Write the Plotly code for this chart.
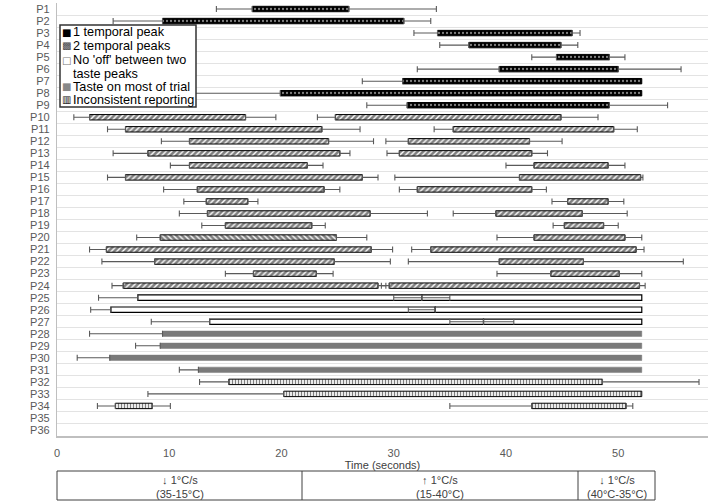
import plotly.graph_objects as go

FONT = "Liberation Sans, Arial, sans-serif"
GREY_TEXT = "#595959"

participants = [f"P{i}" for i in range(1, 37)]

# one entry per reported taste segment (row number = participant)
seg_row = [1, 2, 3, 4, 5, 6, 7, 8, 9,
           10, 10, 11, 11, 12, 12, 13, 13, 14, 14, 15, 15, 16, 16, 17, 17,
           18, 18, 19, 19, 20, 20, 21, 21, 22, 22, 23, 23, 24, 24,
           25, 25, 26, 26, 27, 27,
           28, 29, 30, 31,
           32, 33, 34, 34]
seg_kind = (["one"] * 9 + ["two"] * 30 + ["nooff"] * 6 + ["most"] * 4
            + ["incons"] * 4)
seg_start = [17.4, 9.4, 33.9, 36.7, 44.5, 39.4, 30.8, 19.9, 31.2,
             2.9, 24.8, 6.1, 35.3, 11.8, 31.3, 8.1, 30.5, 11.8, 42.5,
             6.1, 41.2, 12.5, 32.1, 13.3, 45.5, 13.4, 39.1, 15.0, 45.2,
             9.2, 42.5, 4.4, 33.3, 8.7, 39.4, 17.5, 44.0, 5.9, 29.6,
             7.2, 32.5, 4.8, 33.7, 13.6, 38.0,
             9.4, 9.2, 4.7, 12.6,
             15.3, 20.2, 5.2, 42.3]
seg_end = [26.0, 30.9, 45.9, 44.9, 49.2, 50.0, 52.1, 52.1, 49.2,
           16.8, 44.9, 23.6, 49.6, 24.2, 42.1, 25.2, 42.3, 22.3, 49.1,
           27.2, 52.0, 23.8, 42.3, 17.0, 49.1, 27.9, 46.8, 22.7, 48.7,
           24.9, 50.6, 28.0, 51.6, 24.7, 46.9, 23.1, 50.1, 28.6, 51.9,
           32.5, 52.1, 33.7, 52.1, 38.0, 52.1,
           52.1, 52.1, 52.1, 52.1,
           48.6, 52.1, 8.5, 50.7]
# whisker ends: earliest onset / latest offset reported
seg_low = [14.2, 5.0, 31.8, 34.1, 42.3, 32.1, 27.2, 8.0, 27.6,
           1.5, 23.2, 4.5, 33.6, 9.3, 29.3, 5.0, 29.4, 10.1, 40.0,
           4.5, 30.1, 9.5, 30.5, 11.3, 44.1, 10.9, 35.3, 12.9, 44.2,
           7.1, 39.2, 2.9, 31.6, 4.0, 31.3, 15.0, 39.2, 4.9, 28.9,
           3.7, 30.0, 3.0, 31.3, 8.4, 35.0,
           2.9, 7.0, 1.8, 10.9,
           12.7, 8.1, 3.6, 35.0]
seg_high = [33.8, 33.3, 46.6, 46.4, 50.6, 55.6, 52.1, 52.1, 54.4,
            19.5, 48.2, 27.0, 51.7, 28.2, 45.0, 26.1, 43.7, 23.7, 50.6,
            28.6, 52.2, 25.2, 43.6, 17.9, 50.5, 33.0, 50.8, 23.9, 50.0,
            27.6, 52.1, 29.9, 52.3, 29.7, 55.8, 24.6, 52.1, 29.3, 52.4,
            35.0, 52.1, 33.7, 52.1, 40.7, 52.1,
            52.1, 52.1, 52.1, 52.1,
            57.2, 52.1, 10.1, 51.3]

legend_labels = ["1 temporal peak", "2 temporal peaks", "No 'off' between two",
                 "taste peaks", "Taste on most of trial", "Inconsistent reporting"]
phase_labels = ["↓ 1°C/s<br>(35-15°C)", "↑ 1°C/s<br>(15-40°C)",
                "↓ 1°C/s<br>(40°C-35°C)"]

styles = {
    "one": dict(color="black", line=dict(color="black", width=1),
                pattern=dict(shape=".", fillmode="overlay", fgcolor="white",
                             size=4, solidity=0.25)),
    "two": dict(color="white", line=dict(color="black", width=1),
                pattern=dict(shape="/", fillmode="overlay", fgcolor="black",
                             size=4, solidity=0.65)),
    "nooff": dict(color="white", line=dict(color="black", width=1.2)),
    "most": dict(color="#7a7a7a", line=dict(color="#7a7a7a", width=0.5)),
    "incons": dict(color="white", line=dict(color="black", width=1),
                   pattern=dict(shape="|", fillmode="overlay", fgcolor="black",
                                size=3, solidity=0.45)),
}

fig = go.Figure()

for kind, style in styles.items():
    idx = [i for i, k in enumerate(seg_kind) if k == kind]
    marker = dict(style)
    if kind == "two":
        # P20's first bar is hatched the other way
        shapes = ["\\" if (seg_row[i] == 20 and seg_start[i] < 20) else "/" for i in idx]
        marker["pattern"] = dict(style["pattern"], shape=shapes)
    fig.add_trace(
        go.Bar(
            y=[seg_row[i] for i in idx],
            x=[seg_end[i] - seg_start[i] for i in idx],
            base=[seg_start[i] for i in idx],
            orientation="h",
            width=0.45,
            marker=marker,
            showlegend=False,
            hoverinfo="skip",
        )
    )

err_style = dict(type="data", symmetric=False, color="#5a5a5a", thickness=1.1, width=3)

lo = [i for i in range(len(seg_row)) if seg_start[i] - seg_low[i] > 0.05]
fig.add_trace(
    go.Scatter(
        x=[seg_start[i] for i in lo],
        y=[seg_row[i] for i in lo],
        mode="markers",
        marker=dict(color="rgba(0,0,0,0)", size=1),
        error_x=dict(err_style, array=[0] * len(lo),
                     arrayminus=[seg_start[i] - seg_low[i] for i in lo]),
        showlegend=False,
        hoverinfo="skip",
    )
)
hi = [i for i in range(len(seg_row)) if seg_high[i] - seg_end[i] > 0.05]
fig.add_trace(
    go.Scatter(
        x=[seg_end[i] for i in hi],
        y=[seg_row[i] for i in hi],
        mode="markers",
        marker=dict(color="rgba(0,0,0,0)", size=1),
        error_x=dict(err_style, array=[seg_high[i] - seg_end[i] for i in hi],
                     arrayminus=[0] * len(hi)),
        showlegend=False,
        hoverinfo="skip",
    )
)

fig.update_yaxes(
    range=[36.5, 0.5],
    tickmode="array",
    tickvals=list(range(1, 37)),
    ticktext=participants,
    showgrid=False,
    showline=True,
    linecolor="#bfbfbf",
    linewidth=1.2,
    ticks="",
    ticklabelstandoff=4,
    tickfont=dict(size=11, color=GREY_TEXT),
    minor=dict(tickmode="array", tickvals=[i + 0.5 for i in range(0, 36)],
               showgrid=True, gridcolor="#e3e3e3", gridwidth=1),
    zeroline=False,
)
fig.update_xaxes(
    range=[0, 58],
    tickvals=[0, 10, 20, 30, 40, 50],
    showgrid=False,
    showline=True,
    linecolor="#bfbfbf",
    linewidth=1.5,
    ticks="outside",
    ticklen=6,
    tickcolor="rgba(0,0,0,0)",
    tickfont=dict(size=11, color=GREY_TEXT),
    title=dict(text="Time (seconds)", font=dict(size=11, color="#404040"), standoff=2),
    zeroline=False,
)

# legend box drawn by hand (tight line spacing as in the source figure)
W, H, L, T = 651.0, 433.0, 57.0, 3.0


def px(xp):
    return (xp - L) / W


def py(yp):
    return 1 - (yp - T) / H


fig.add_shape(type="rect", xref="paper", yref="paper",
              x0=px(60), x1=px(196), y0=py(107), y1=py(25),
              line=dict(color="#333333", width=1.5), fillcolor="white", layer="above")

symbols = [("■", "black"), ("▩", "#444444"), ("□", "#777777"), ("", ""),
           ("■", "#888888"), ("▥", "black")]
line_y = [32.3, 45.5, 60, 74, 86.7, 99.5]
for (sym, col), text, yl in zip(symbols, legend_labels, line_y):
    if sym:
        fig.add_annotation(x=px(66), y=py(yl), xref="paper", yref="paper",
                           text=sym, showarrow=False, xanchor="center", yanchor="middle",
                           font=dict(size=10, color=col, family="DejaVu Sans"))
    fig.add_annotation(x=px(70.5), y=py(yl), xref="paper", yref="paper",
                       text=text, showarrow=False, xanchor="left", yanchor="middle",
                       font=dict(size=12.7, color="black", family=FONT))

# temperature phases strip under the axis
cells = [57, 302, 578, 655]
fig.add_shape(type="rect", xref="paper", yref="paper",
              x0=px(cells[0]), x1=px(cells[-1]), y0=py(500), y1=py(471),
              line=dict(color="#404040", width=1))
for c in cells[1:-1]:
    fig.add_shape(type="line", xref="paper", yref="paper",
                  x0=px(c), x1=px(c), y0=py(500), y1=py(471),
                  line=dict(color="#404040", width=1))
for a, b, text in zip(cells[:-1], cells[1:], phase_labels):
    fig.add_annotation(x=px((a + b) / 2), y=py(486.5), xref="paper", yref="paper",
                       text=text, showarrow=False, xanchor="center", yanchor="middle",
                       font=dict(size=11, color="#404040", family=FONT))

fig.update_layout(
    template="none",
    width=711,
    height=502,
    margin=dict(l=57, r=3, t=3, b=66),
    barmode="overlay",
    plot_bgcolor="white",
    paper_bgcolor="white",
    font=dict(family=FONT, color=GREY_TEXT),
)

# the page body has a default 8px margin; drop it so the figure fills the window
fig.write_html(
    "out.html",
    config={"displayModeBar": False},
    post_script="document.body.style.margin='0px';",
)
